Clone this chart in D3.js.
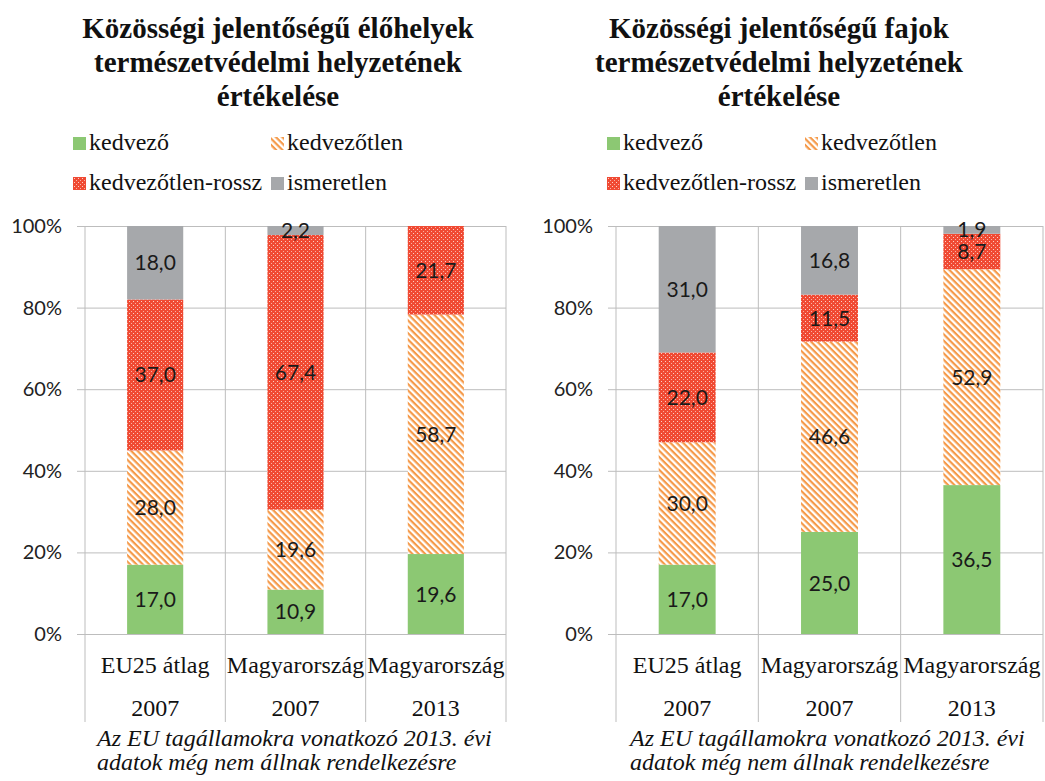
<!DOCTYPE html>
<html>
<head>
<meta charset="utf-8">
<script src="https://cdn.jsdelivr.net/npm/d3@7"></script>
<style>
  body { margin: 0; background: #fff; }
  svg.vis { display: block; }
</style>
</head>
<body>
<svg class="vis" width="1045" height="781"></svg>
<script>

// categories (two-line labels)
const catNames = ['EU25 átlag', 'Magyarország', 'Magyarország'];
const catYears = ['2007', '2007', '2013'];

const seriesNames = ['kedvező', 'kedvezőtlen', 'kedvezőtlen-rossz', 'ismeretlen'];

// élőhelyek
const habKedvezo = [17.0, 10.9, 19.6];
const habKedvezotlen = [28.0, 19.6, 58.7];
const habRossz = [37.0, 67.4, 21.7];
const habIsmeretlen = [18.0, 2.2, 0];

// fajok
const fajKedvezo = [17.0, 25.0, 36.5];
const fajKedvezotlen = [30.0, 46.6, 52.9];
const fajRossz = [22.0, 11.5, 8.7];
const fajIsmeretlen = [31.0, 16.8, 1.9];

const yTicks = [0, 0.2, 0.4, 0.6, 0.8, 1];

const titleHab = ['Közösségi jelentőségű élőhelyek', 'természetvédelmi helyzetének', 'értékelése'];
const titleFaj = ['Közösségi jelentőségű fajok', 'természetvédelmi helyzetének', 'értékelése'];
const footnote = ['Az EU tagállamokra vonatkozó 2013. évi', 'adatok még nem állnak rendelkezésre'];

const v = {

    elems : {
        svg : 'svg.vis'
    },

    style : {
        serif : '"Liberation Serif", "Times New Roman", serif',
        sans : 'Lato, Carlito, Calibri, sans-serif',
        grid : '#bdbdbd',
        fills : ['#8cc873', 'url(#hatch)', 'url(#dots)', '#a6a8ab']
    },

    sizings : {
        top : 226,
        bottom : 634
    },

    defs : (svg) => {

        const defs = svg.append('defs');

        const hatch = defs.append('pattern')
          .attr('id', 'hatch')
          .attr('patternUnits', 'userSpaceOnUse')
          .attr('width', 4.5)
          .attr('height', 4.5)
          .attr('patternTransform', 'rotate(45)');
        hatch.append('rect').attr('width', 4.5).attr('height', 4.5).attr('fill', '#fff');
        hatch.append('rect').attr('width', 4.5).attr('height', 2.2).attr('fill', '#f59a4a');

        const dots = defs.append('pattern')
          .attr('id', 'dots')
          .attr('patternUnits', 'userSpaceOnUse')
          .attr('width', 4)
          .attr('height', 4);
        dots.append('rect').attr('width', 4).attr('height', 4).attr('fill', '#f04a33');
        dots.append('rect').attr('x', 1).attr('y', 1).attr('width', 1).attr('height', 1).attr('fill', '#fbd0c8');
        dots.append('rect').attr('x', 3).attr('y', 3).attr('width', 1).attr('height', 1).attr('fill', '#f8b0a4');

    },

    panel : (svg, p) => {

        const s = v.style;
        const g = svg.append('g');

        // title
        g.append('text')
          .attr('text-anchor', 'middle')
          .attr('font-family', s.serif)
          .attr('font-weight', 'bold')
          .attr('font-size', 29)
          .attr('fill', '#111')
          .selectAll('tspan')
          .data(p.title)
          .join('tspan')
          .attr('x', p.titleX)
          .attr('y', (d, i) => 38 + i * 34)
          .text(d => d);

        // legend
        const leg = g.append('g')
          .selectAll('g')
          .data(seriesNames)
          .join('g')
          .attr('transform', (d, i) => `translate(${i % 2 ? p.legX2 : p.legX1},${i < 2 ? 137 : 177})`);
        leg.append('rect')
          .attr('width', 13).attr('height', 13)
          .attr('fill', (d, i) => s.fills[i]);
        leg.append('text')
          .attr('x', 16).attr('y', 13)
          .attr('font-family', s.serif)
          .attr('font-size', 24)
          .attr('fill', '#111')
          .text(d => d);

        // scales
        const x = d3.scaleBand()
          .domain(d3.range(catNames.length))
          .range([p.x0, p.x1])
          .padding(0);

        const y = d3.scaleLinear()
          .domain([0, 1])
          .range([v.sizings.bottom, v.sizings.top]);

        // grid + y axis
        const ax = g.append('g')
          .attr('transform', `translate(${p.x0},0)`)
          .call(d3.axisLeft(y)
            .tickValues(yTicks)
            .tickSize(-(p.x1 - p.x0))
            .tickPadding(23)
            .tickFormat(d3.format('.0%')));
        ax.select('.domain').remove();
        ax.selectAll('.tick line')
          .attr('x1', -8)
          .attr('stroke', s.grid);
        ax.selectAll('.tick text')
          .attr('font-family', s.sans)
          .attr('font-size', 20)
          .attr('fill', '#222');

        // vertical separators
        const edges = x.domain().map(d => x(d)).concat([p.x1]);
        g.append('g')
          .selectAll('line')
          .data(edges)
          .join('line')
          .attr('x1', d => d).attr('x2', d => d)
          .attr('y1', v.sizings.top).attr('y2', 722)
          .attr('stroke', s.grid);

        // stacked bars (100%)
        const rows = catNames.map((c, i) => {
            const r = { idx : i };
            seriesNames.forEach((n, k) => { r[n] = p.values[k][i]; });
            return r;
        });

        const stack = d3.stack()
          .keys(seriesNames)
          .offset(d3.stackOffsetExpand);

        const layers = stack(rows);
        const bw = x.bandwidth() * 0.4;

        const lay = g.append('g')
          .selectAll('g')
          .data(layers)
          .join('g')
          .attr('fill', (d, i) => s.fills[i]);

        lay.selectAll('rect')
          .data(d => d)
          .join('rect')
          .attr('x', d => x(d.data.idx) + (x.bandwidth() - bw) / 2)
          .attr('width', bw)
          .attr('y', d => y(d[1]))
          .attr('height', d => y(d[0]) - y(d[1]));

        // data labels
        g.append('g')
          .selectAll('g')
          .data(layers)
          .join('g')
          .selectAll('text')
          .data(d => d.map(e => ({ e : e, val : e.data[d.key] })))
          .join('text')
          .filter(d => d.val > 0)
          .attr('x', d => x(d.e.data.idx) + x.bandwidth() / 2)
          .attr('y', d => y((d.e[0] + d.e[1]) / 2))
          .attr('dy', '0.36em')
          .attr('text-anchor', 'middle')
          .attr('font-family', s.sans)
          .attr('font-size', 21)
          .attr('fill', '#1a1a1a')
          .text(d => d3.format('.1f')(d.val).replace('.', ','));

        // category labels
        const cat = g.append('g')
          .selectAll('g')
          .data(catNames)
          .join('g')
          .attr('transform', (d, i) => `translate(${x(i) + x.bandwidth() / 2},0)`)
          .attr('font-family', s.serif)
          .attr('font-size', 24)
          .attr('fill', '#111')
          .attr('text-anchor', 'middle');
        cat.append('text').attr('y', 673).text(d => d);
        cat.append('text').attr('y', 716).text((d, i) => catYears[i]);

        // footnote
        g.append('text')
          .attr('font-family', s.serif)
          .attr('font-style', 'italic')
          .attr('font-size', 24)
          .attr('fill', '#111')
          .selectAll('tspan')
          .data(footnote)
          .join('tspan')
          .attr('x', p.noteX)
          .attr('y', (d, i) => 746 + i * 24)
          .text(d => d);

    },

    init : () => {

        const svg = d3.select(v.elems.svg);
        v.defs(svg);

        v.panel(svg, {
            title : titleHab,
            titleX : 278,
            legX1 : 73, legX2 : 271,
            x0 : 85, x1 : 506,
            noteX : 97,
            values : [habKedvezo, habKedvezotlen, habRossz, habIsmeretlen]
        });

        v.panel(svg, {
            title : titleFaj,
            titleX : 779,
            legX1 : 607, legX2 : 805,
            x0 : 616, x1 : 1043,
            noteX : 630,
            values : [fajKedvezo, fajKedvezotlen, fajRossz, fajIsmeretlen]
        });

    }

};

v.init();
</script>
</body>
</html>
